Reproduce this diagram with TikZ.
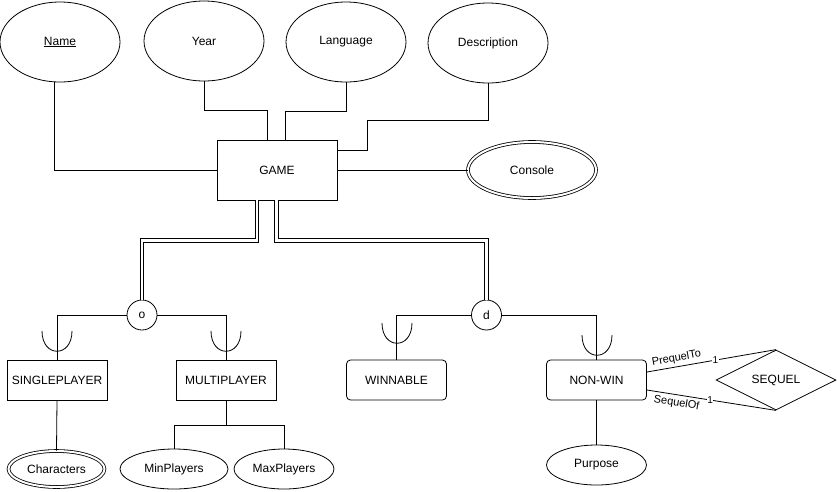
\documentclass[tikz,border=0pt]{standalone}
\usepackage{fontspec}
\setmainfont{Liberation Sans}
\usetikzlibrary{calc,shapes.geometric}
\def\subsetcup(#1:#2){\draw ({#1-15},{#2}) .. controls ({#1-15},{#2+27}) and ({#1+15},{#2+27}) .. ({#1+15},{#2});}
\tikzset{
	attr/.style={draw, ellipse, minimum width=120pt, minimum height=80pt, inner sep=1pt},
	multiattr/.style={draw, ellipse, double, double distance=2pt, inner sep=1pt},
	entity/.style={draw, rectangle, minimum width=120pt, minimum height=60pt},
	subent/.style={draw, rectangle, minimum width=100pt, minimum height=40pt},
	subwin/.style={subent, rounded corners=4pt},
	joint/.style={draw, circle, minimum size=30pt, inner sep=0pt},
	isa/.style={double, double distance=2.4pt, line width=0.9pt},
	relship/.style={draw, diamond, minimum width=120pt, minimum height=60pt, inner sep=0pt},
	card/.style={fill=white, inner sep=0.5pt, font=\fontsize{10}{11}\selectfont},
	role/.style={sloped, inner sep=3pt, font=\fontsize{11}{12}\selectfont}
}

\begin{document}
\begin{tikzpicture}[x=1pt, y=-1pt, line width=0.8pt, font=\fontsize{12}{14}\selectfont]
		%%%%% START %%%%%
		\useasboundingbox (0,0) rectangle (837,491);
		
		\node[attr] (name) at (60,42) {\underline{Name}};
		\node[attr] (year) at (204,41) {Year};
		\node[attr] (lang) at (346,42) {Language};
		\node[attr] (desc) at (488,43) {Description};
		
		\node[entity] (game) at (277,170) {GAME};
		\node[multiattr, minimum width=128pt, minimum height=56pt] (cons) at (532,170) {Console};
		
		\draw ([xshift=-6pt]name.south) |- (game.west);
		\draw (year.south) -- ++(0,29) -| ([xshift=-10pt]game.north);
		\draw (lang.south) -- ++(0,29) -| ([xshift=8pt]game.north);
		\draw (desc.south) -- ++(0,37) -| ([xshift=30pt,yshift=20pt]game.east) -- ([yshift=20pt]game.east);
		\draw (game.east) -- (cons.west);
		
		\node[joint] (ovl) at (142,315) {o};
		\node[joint] (dsj) at (486.5,315) {d};
		\draw[isa] ([xshift=-20pt]game.south) -- ++(0,40) -| (ovl.north);
		\draw[isa] ([xshift=-0.5pt]game.south) -- ++(0,40) -| (dsj.north);
		
		\node[subent] (single) at (57,380) {SINGLEPLAYER};
		\node[subent] (multi) at (226,380) {MULTIPLAYER};
		\node[subwin] (winn) at (396.5,380) {WINNABLE};
		\node[subwin] (nonwin) at (596.5,380) {NON-WIN};
		
		\draw (ovl.west) -| (single.north);
		\draw (ovl.east) -| (multi.north);
		\draw (dsj.west) -| (winn.north);
		\draw (dsj.east) -| (nonwin.north);
		\subsetcup(57:331)
		\subsetcup(226:331)
		\subsetcup(397:323)
		\subsetcup(597:335)
		
		\node[multiattr, minimum width=96pt, minimum height=36pt] (chars) at (56.5,469) {Characters};
		\node[attr, minimum width=108pt, minimum height=40pt] (minp) at (174,469) {MinPlayers};
		\node[attr, minimum width=100pt, minimum height=40pt] (maxp) at (284,469) {MaxPlayers};
		\node[attr, minimum width=100pt, minimum height=40pt] (purp) at (596.5,465) {Purpose};
		
		\draw (single.south) -- (chars.north);
		\draw (multi.south) -- ++(0,25) -| (minp.north);
		\draw (multi.south) -- ++(0,25) -| (maxp.north);
		\draw (nonwin.south) -- (purp.north);
		
		\node[relship] (seq) at (776,380) {SEQUEL};
		\draw ([yshift=8pt]nonwin.east) -- node[card, pos=0.53] {1} node[role, above, pos=0.24] {PrequelTo} (seq.north);
		\draw ([yshift=-10pt]nonwin.east) -- node[card, pos=0.49] {1} node[role, below, pos=0.24] {SequelOf} (seq.south);
		
		%%%%% END %%%%%
	\end{tikzpicture}
\end{document}
